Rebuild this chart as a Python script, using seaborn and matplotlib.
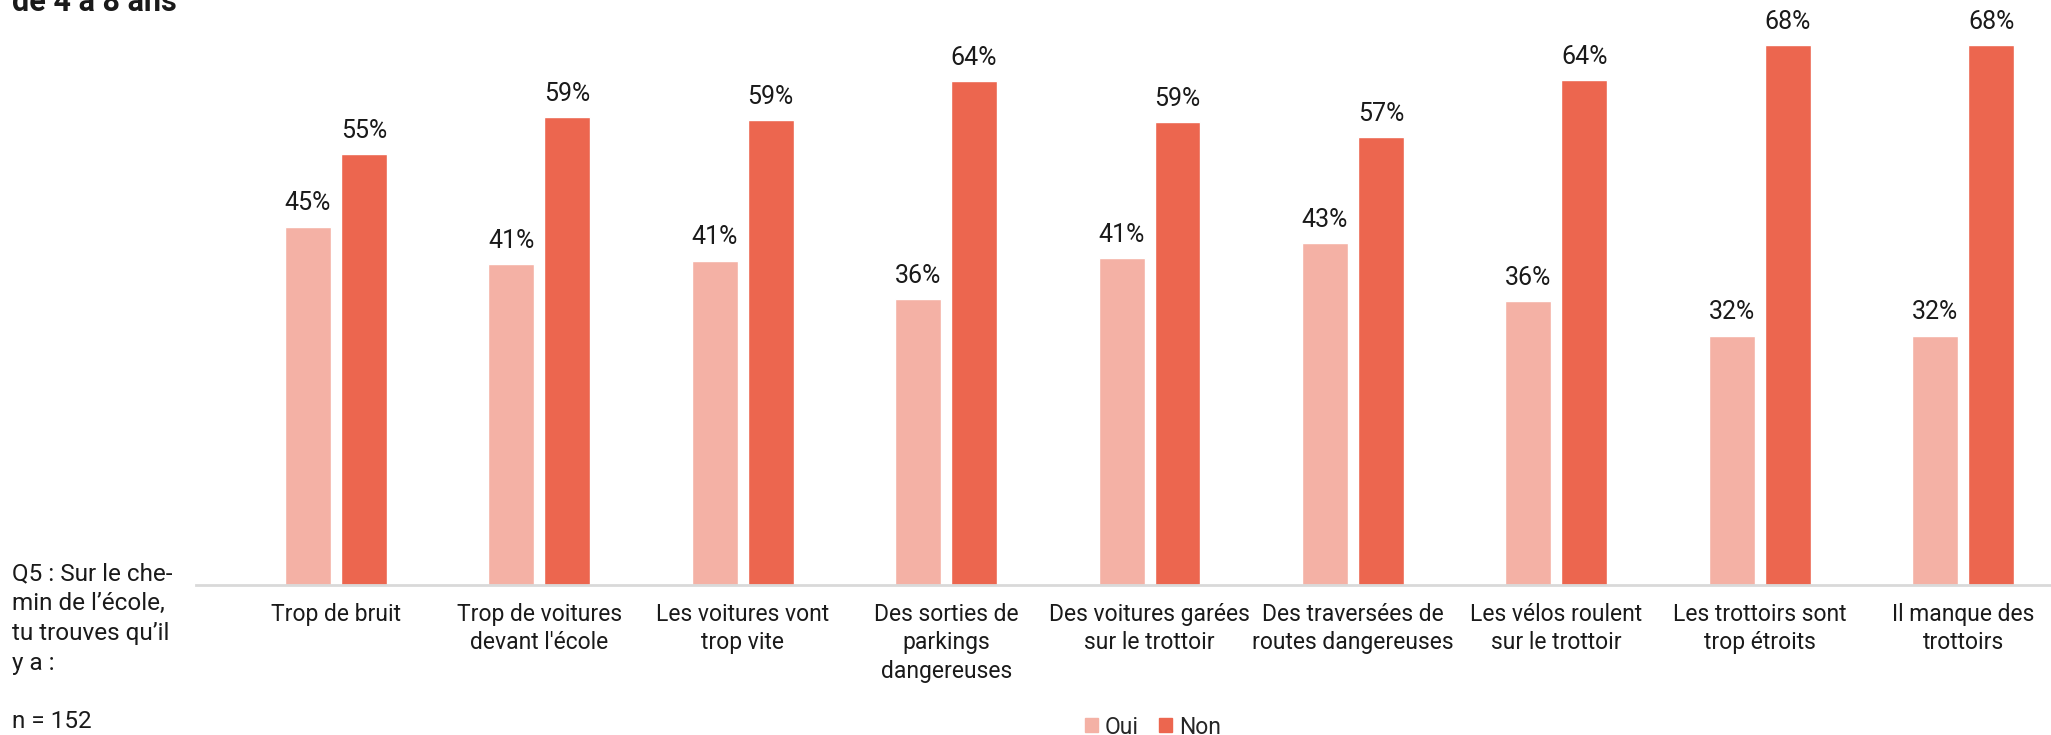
#!/usr/bin/env python3
# coding: utf-8
import pandas as pd
import seaborn as sns
import matplotlib.pyplot as plt

# ------------------------------------------------
# Data
# ------------------------------------------------
categories = [
    "Trop de bruit",
    "Trop de voitures\ndevant l'école",
    "Les voitures vont\ntrop vite",
    "Des sorties de\nparkings\ndangereuses",
    "Des voitures garées\nsur le trottoir",
    "Des traversées de\nroutes dangereuses",
    "Les vélos roulent\nsur le trottoir",
    "Les trottoirs sont\ntrop étroits",
    "Il manque des\ntrottoirs",
]
oui = [45.4, 40.7, 41.1, 36.2, 41.4, 43.3, 36.0, 31.6, 31.6]
non = [54.6, 59.3, 58.9, 63.8, 58.6, 56.7, 64.0, 68.4, 68.4]
series = ["Oui", "Non"]
colors = ["#F4B1A5", "#EC664F"]

df = pd.DataFrame({
    "categorie": categories * 2,
    "reponse": ["Oui"] * len(categories) + ["Non"] * len(categories),
    "valeur": oui + non,
})

# ------------------------------------------------
# Plot
# ------------------------------------------------
sns.set_theme(style="white")
plt.rcParams['font.family'] = ['Roboto', 'DejaVu Sans']
fs = 16.5

fig = plt.figure(figsize=(20.51, 7.35), dpi=100)
ax = fig.add_axes([196 / 2051, 150 / 735, 1 - 196 / 2051, 585 / 735])

sns.barplot(data=df, x="categorie", y="valeur", hue="reponse", order=categories,
            hue_order=series, palette=colors, width=0.55, gap=0.18,
            saturation=1, ax=ax, legend=False)

for c in ax.containers:
    ax.bar_label(c, labels=[f"{v:.0f}%" for v in c.datavalues],
                 padding=8, fontsize=18, color="#1a1a1a")

ax.set_xlim(-0.688, 8.432)
ax.set_ylim(0, 74.1)
ax.set_xlabel("")
ax.set_ylabel("")
ax.set_yticks([])
ax.tick_params(axis="x", length=0, pad=13, labelsize=fs, labelcolor="#1a1a1a")
plt.setp(ax.get_xticklabels(), linespacing=1.3)
for s in ["top", "right", "left"]:
    ax.spines[s].set_visible(False)
ax.spines["bottom"].set_color("#D9D9D9")
ax.spines["bottom"].set_linewidth(2)

# legend
handles = [plt.Rectangle((0, 0), 1, 1, color=c) for c in colors]
fig.legend(handles, series, loc="center", bbox_to_anchor=(1153 / 2051, 1 - 727 / 735),
           ncol=2, frameon=False, fontsize=fs, handlelength=0.55, handleheight=0.55,
           handletextpad=0.3, columnspacing=0.9, borderpad=0)

# side texts
fig.text(12 / 2051, 1 - 562 / 735, "Q5 : Sur le che-\nmin de l’école,\ntu trouves qu’il\ny a :",
         ha="left", va="top", fontsize=17.5, linespacing=1.38, color="#1a1a1a")
fig.text(12 / 2051, 1 - 722 / 735, "n = 152", ha="left", va="center",
         fontsize=17.5, color="#1a1a1a")
fig.text(12 / 2051, 1 - 11 / 735, "de 4 à 8 ans", ha="left", va="baseline",
         fontsize=22, fontweight="bold", color="#1a1a1a")

plt.savefig("out.png", dpi=100)
plt.close(fig)
